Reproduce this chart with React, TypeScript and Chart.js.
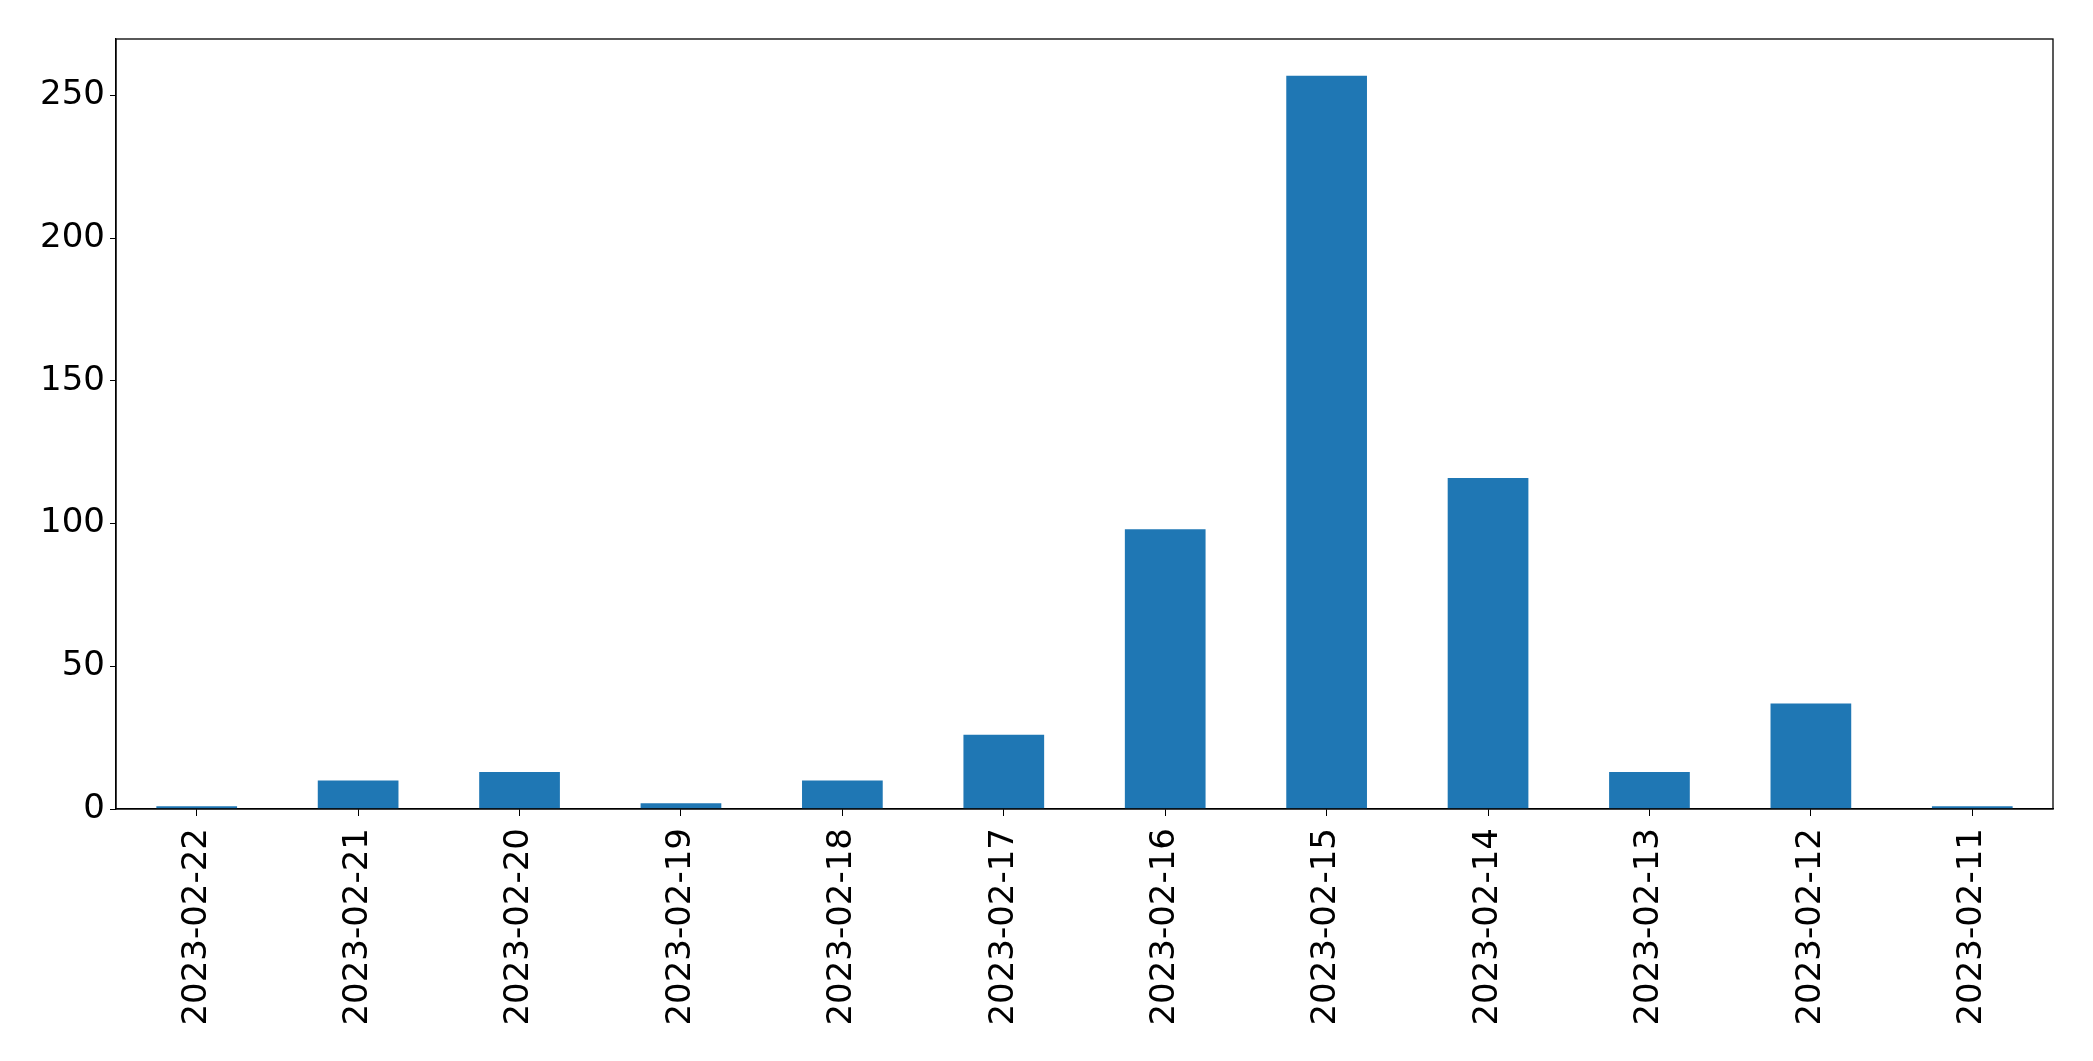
import React, { useEffect, useRef } from "react";
import { Chart, registerables } from "chart.js";

Chart.register(...registerables);

const categories = [
  "2023-02-22", "2023-02-21", "2023-02-20", "2023-02-19", "2023-02-18", "2023-02-17",
  "2023-02-16", "2023-02-15", "2023-02-14", "2023-02-13", "2023-02-12", "2023-02-11",
];
const counts = [1, 10, 13, 2, 10, 26, 98, 257, 116, 13, 37, 1];
const yTicks = [0, 50, 100, 150, 200, 250];

const W = 2093;
const H = 1061;
const LEFT = 116;
const RIGHT = 2053;
const TOP = 39;
const BOTTOM = 809;

const framePlugin = {
  id: "frame",
  afterDraw(chart: any) {
    const { ctx, chartArea } = chart;
    ctx.save();
    ctx.strokeStyle = "#000";
    ctx.lineWidth = 1.3;
    ctx.strokeRect(chartArea.left, chartArea.top, chartArea.right - chartArea.left, chartArea.bottom - chartArea.top);
    ctx.restore();
  },
};

export default function App() {
  const ref = useRef<HTMLCanvasElement | null>(null);
  useEffect(() => {
    if (!ref.current) return;
    const font = { family: "'DejaVu Sans', sans-serif", size: 34 };
    const chart = new Chart(ref.current, {
      type: "bar",
      data: {
        labels: categories,
        datasets: [
          {
            data: counts,
            backgroundColor: "#1f77b4",
            barPercentage: 0.5,
            categoryPercentage: 1,
          },
        ],
      },
      options: {
        animation: false,
        responsive: false,
        maintainAspectRatio: false,
        layout: { padding: { left: 0, top: TOP, right: W - RIGHT, bottom: 0 } },
        plugins: { legend: { display: false }, tooltip: { enabled: false } },
        scales: {
          x: {
            offset: true,
            grid: { display: true, drawOnChartArea: false, drawTicks: true, tickLength: 7, color: "#000", offset: false },
            border: { display: true, color: "#000", width: 1.3 },
            ticks: {
              color: "#000",
              font,
              maxRotation: 90,
              minRotation: 90,
              autoSkip: false,
              padding: 12,
            },
            afterFit(scale: any) {
              scale.height = H - BOTTOM;
            },
          },
          y: {
            min: 0,
            max: 269.85,
            grid: { display: true, drawOnChartArea: false, drawTicks: true, tickLength: 6, color: "#000" },
            border: { display: true, color: "#000", width: 1.3 },
            ticks: {
              color: "#000",
              font,
              stepSize: 50,
              includeBounds: false,
              padding: 5,
            },
            afterBuildTicks(scale: any) {
              scale.ticks = yTicks.map((v) => ({ value: v }));
            },
            afterFit(scale: any) {
              scale.width = LEFT;
            },
          },
        },
      },
      plugins: [framePlugin],
    });
    return () => chart.destroy();
  }, []);
  return (
    <div style={{ position: "fixed", left: 0, top: 0, width: W, height: H, background: "#fff" }}>
      <canvas ref={ref} width={W} height={H} style={{ width: W, height: H, display: "block" }} />
    </div>
  );
}
